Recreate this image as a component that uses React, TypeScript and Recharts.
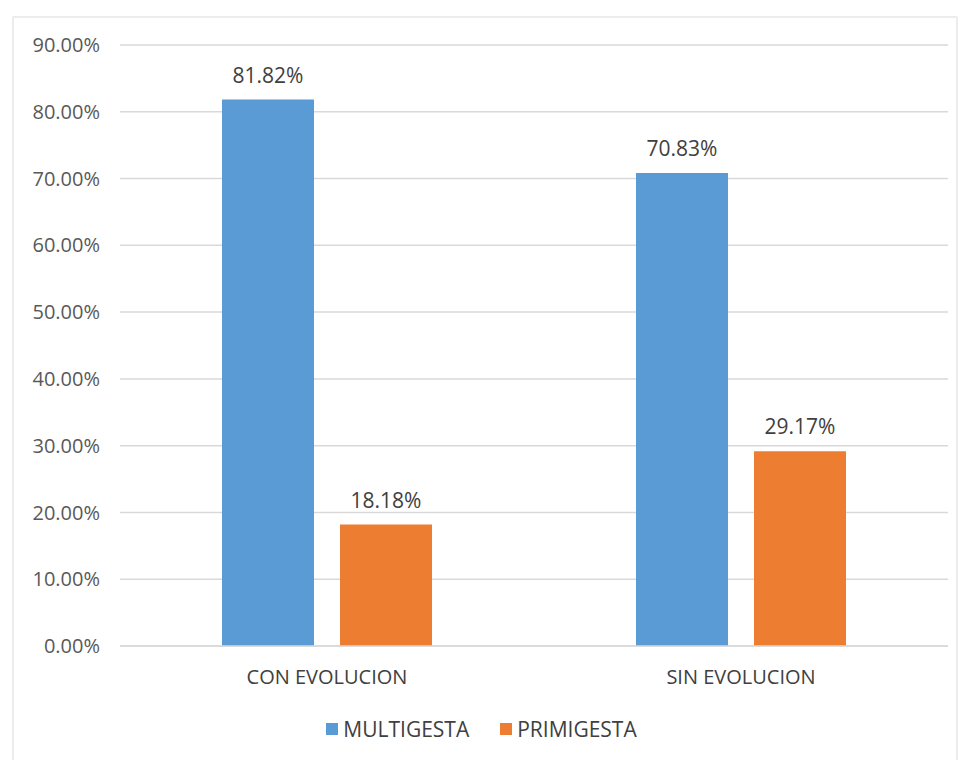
import React from "react"
import {BarChart, Bar, XAxis, YAxis, CartesianGrid, Legend, LabelList} from "recharts"

const categories = ["CON EVOLUCION", "SIN EVOLUCION"]
const multigesta = [0.8182, 0.7083]
const primigesta = [0.1818, 0.2917]
const yTicks = [0, 0.1, 0.2, 0.3, 0.4, 0.5, 0.6, 0.7, 0.8, 0.9]
const seriesColors = {MULTIGESTA: "#5b9bd5", PRIMIGESTA: "#ed7d31"}

const data = categories.map((name, i) => ({
   name,
   MULTIGESTA: multigesta[i],
   PRIMIGESTA: primigesta[i],
}))

const pct = (v: number) => (v * 100).toFixed(2) + "%"
const font = "'Open Sans', 'Noto Sans', sans-serif"

const LegendBox = (props: any) => {
   const items = props.payload || []
   return (
      <div style={{display: "flex", justifyContent: "center", gap: 31, fontSize: 21, color: "#404040", fontFamily: font}}>
         {items.map((it: any) => (
            <div key={it.value} style={{display: "flex", alignItems: "center"}}>
               <span style={{width: 12, height: 12, background: it.color, display: "inline-block", marginRight: 5}} />
               <span>{it.value}</span>
            </div>
         ))}
      </div>
   )
}

export default function App() {
   return (
      <div style={{position: "absolute", left: 0, top: 0, width: 963, height: 760, background: "#fff", overflow: "hidden", fontFamily: font}}>
         <div style={{position: "absolute", left: 12, top: 16, width: 942, height: 800, border: "2px solid #ececec", borderRadius: 2}} />
         <BarChart
            width={963}
            height={760}
            data={data}
            margin={{top: 15, right: 15, bottom: 74, left: 0}}
            barSize={92}
            barGap={26}
            style={{position: "absolute", left: 0, top: 0}}
         >
            <CartesianGrid vertical={false} stroke="#d9d9d9" strokeWidth={1.5} />
            <XAxis
               dataKey="name"
               axisLine={{stroke: "#d9d9d9", strokeWidth: 1.5}}
               tickLine={false}
               tickMargin={18}
               tick={{fill: "#404040", fontSize: 20, fontFamily: font}}
               height={40}
            />
            <YAxis
               domain={[0, 0.9]}
               ticks={yTicks}
               width={120}
               axisLine={false}
               tickLine={false}
               tickMargin={14}
               tickFormatter={pct}
               tick={{fill: "#595959", fontSize: 20, fontFamily: font}}
            />
            <Legend
               verticalAlign="top"
               content={<LegendBox />}
               wrapperStyle={{position: "absolute", top: 715, left: 0, width: 963, height: 30}}
            />
            <Bar dataKey="MULTIGESTA" fill={seriesColors.MULTIGESTA} isAnimationActive={false}>
               <LabelList dataKey="MULTIGESTA" position="top" offset={17} formatter={pct} fill="#404040" fontSize={21} fontFamily={font} />
            </Bar>
            <Bar dataKey="PRIMIGESTA" fill={seriesColors.PRIMIGESTA} isAnimationActive={false}>
               <LabelList dataKey="PRIMIGESTA" position="top" offset={17} formatter={pct} fill="#404040" fontSize={21} fontFamily={font} />
            </Bar>
         </BarChart>
      </div>
   )
}
